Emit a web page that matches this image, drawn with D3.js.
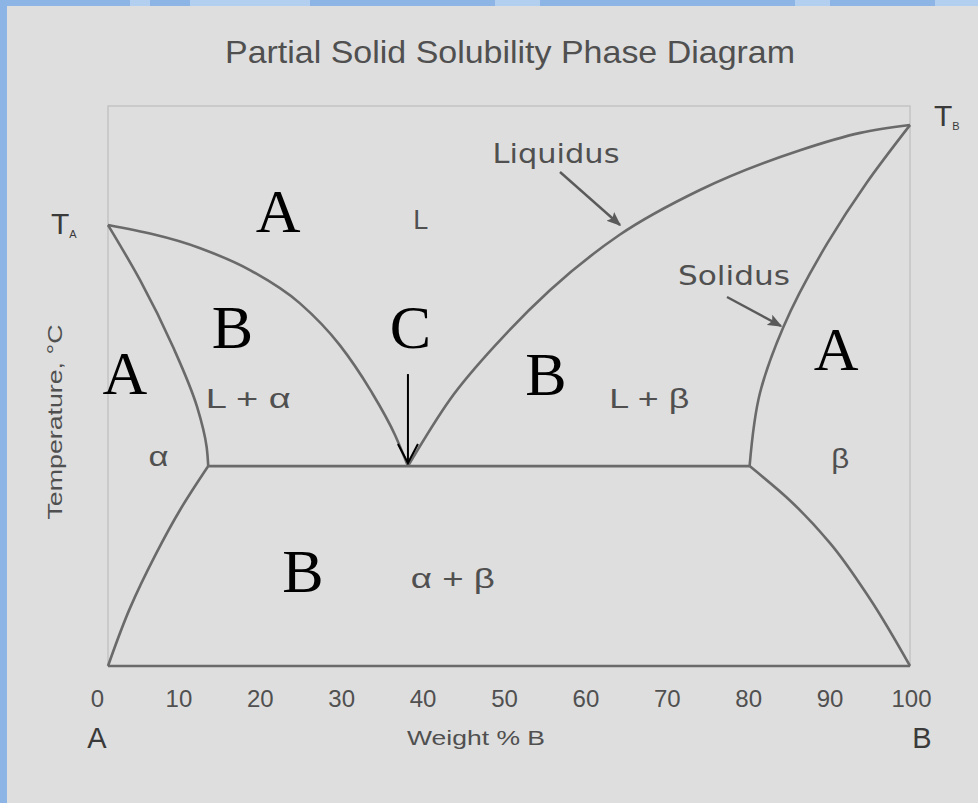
<!DOCTYPE html>
<html>
<head>
<meta charset="utf-8">
<script src="https://cdn.jsdelivr.net/npm/d3@7"></script>
<style>
  html, body { margin: 0; padding: 0; background: #8cb5e5; }
  svg { display: block; }
</style>
</head>
<body>
<script>
// Composition ticks (weight % B)
const tickValues = [0, 10, 20, 30, 40, 50, 60, 70, 80, 90, 100];

// Phase boundaries as [weight % B, temperature (relative units)]
// liquidus lines, ordered by composition
const liquidusA = [[0, 78.75], [11.5, 74.6], [17.7, 70.7], [23.9, 64.8], [28.9, 57.3], [32.7, 49.3], [35.8, 41.2], [37.4, 35.7]];
const liquidusB = [[37.4, 35.7], [42.6, 47.5], [48.9, 58.2], [55.1, 67.1], [63.8, 77.0], [73.8, 85.0], [86.3, 92.1], [93.8, 95.2], [100, 96.6]];
// solidus and solvus lines, ordered by falling temperature
const solidusA  = [[0, 78.75], [4.0, 68.9], [8.1, 57.0], [11.1, 46.3], [12.3, 39.1], [12.5, 35.7]];
const solidusB  = [[100, 96.6], [94.6, 86.3], [89.7, 75.5], [84.2, 60.5], [81.3, 48.8], [80.0, 35.7]];
const solvusA   = [[12.5, 35.7], [9.0, 27.9], [5.9, 19.8], [2.7, 10.2], [0, 0]];
const solvusB   = [[80.0, 35.7], [85.0, 29.6], [90.0, 22.0], [95.0, 12.0], [100, 0]];
const eutecticLine = [[12.5, 35.7], [80.0, 35.7]];
const baseLine  = [[0, 0], [100, 0]];

// Phase-field labels: [text, weight % B, temperature]
const phaseLabels = [
  ["L", 39.0, 78.0],
  ["L + \u03b1", 17.5, 46.0],
  ["L + \u03b2", 67.5, 46.0],
  ["\u03b1", 6.3, 35.8],
  ["\u03b2", 91.3, 35.4],
  ["\u03b1 + \u03b2", 43.0, 14.0]
];
const phaseLabelWidths = [15, 85, 80, 20, 18, 84];

// Region markers drawn over the diagram: [text, weight % B, temperature]
const markers = [
  ["A", 21.2, 77.5],
  ["B", 15.5, 56.8],
  ["A", 2.1, 48.6],
  ["C", 37.7, 56.8],
  ["B", 54.6, 48.4],
  ["A", 90.8, 52.9],
  ["B", 24.3, 13.2]
];

const W = 978, H = 803;
const x = d3.scaleLinear().domain([0, 100]).range([108, 910]);
const y = d3.scaleLinear().domain([0, 100]).range([666, 106]);
// tick labels sit on a slightly wider band than the frame
const xTick = d3.scaleLinear().domain([0, 100]).range([97, 911]);

const svg = d3.select("body").append("svg").attr("width", W).attr("height", H);

// decorative backdrop strip
const bg = svg.append("g");
bg.append("rect").attr("width", W).attr("height", H).attr("fill", "#8cb5e5");
const arcs = [[130, 150], [190, 310], [495, 540], [795, 830], [935, 978]];
arcs.forEach(a => bg.append("rect").attr("x", a[0]).attr("y", 0).attr("width", a[1] - a[0]).attr("height", 7).attr("fill", "#b3cff0"));

// panel
svg.append("rect").attr("x", 7).attr("y", 6).attr("width", W - 7).attr("height", H - 6).attr("fill", "#dedede");

const textCol = "#505050";
const sans = "'Liberation Sans Narrow', 'Liberation Sans', Arial, sans-serif";

// title
svg.append("text").attr("x", 510).attr("y", 63).attr("text-anchor", "middle")
  .attr("font-family", sans).attr("font-size", 32).attr("fill", textCol)
  .attr("textLength", 570).attr("lengthAdjust", "spacingAndGlyphs")
  .text("Partial Solid Solubility Phase Diagram");

// frame
svg.append("rect").attr("x", x(0)).attr("y", y(100)).attr("width", x(100) - x(0)).attr("height", y(0) - y(100))
  .attr("fill", "none").attr("stroke", "#c4c4c4").attr("stroke-width", 1.5);

// phase boundaries
const lineX = d3.line().x(d => x(d[0])).y(d => y(d[1])).curve(d3.curveMonotoneX);
const lineY = d3.line().x(d => x(d[0])).y(d => y(d[1])).curve(d3.curveMonotoneY);
const straight = d3.line().x(d => x(d[0])).y(d => y(d[1]));
const bounds = svg.append("g").attr("fill", "none").attr("stroke", "#6a6a6a").attr("stroke-width", 2.6)
  .attr("stroke-linejoin", "round");
[liquidusA, liquidusB].forEach(d => bounds.append("path").attr("d", lineX(d)));
[solidusA, solidusB, solvusA, solvusB].forEach(d => bounds.append("path").attr("d", lineY(d)));
[eutecticLine, baseLine].forEach(d => bounds.append("path").attr("d", straight(d)));

// x axis labels
const axis = d3.axisBottom(xTick).tickValues(tickValues).tickSize(0).tickPadding(0);
const ax = svg.append("g").attr("transform", "translate(0,688)").call(axis);
ax.select(".domain").remove();
ax.selectAll("text").attr("font-family", sans).attr("font-size", 24).attr("fill", textCol)
  .attr("dy", "0.8em");

svg.append("text").attr("x", 97).attr("y", 748).attr("text-anchor", "middle")
  .attr("font-family", "'Liberation Sans', Arial, sans-serif").attr("font-size", 29).attr("fill", "#3a3a3a").text("A");
svg.append("text").attr("x", 922).attr("y", 748).attr("text-anchor", "middle")
  .attr("font-family", "'Liberation Sans', Arial, sans-serif").attr("font-size", 29).attr("fill", "#3a3a3a").text("B");
svg.append("text").attr("x", 476).attr("y", 745).attr("text-anchor", "middle")
  .attr("font-family", sans).attr("font-size", 21).attr("fill", textCol)
  .attr("textLength", 138).attr("lengthAdjust", "spacingAndGlyphs").text("Weight % B");

// y axis title
svg.append("text").attr("transform", "translate(62,422) rotate(-90)").attr("text-anchor", "middle")
  .attr("font-family", sans).attr("font-size", 20).attr("fill", textCol)
  .attr("textLength", 195).attr("lengthAdjust", "spacingAndGlyphs").text("Temperature, \u00b0C");

// melting points
function meltLabel(px, py, sub) {
  const t = svg.append("text").attr("x", px).attr("y", py)
    .attr("font-family", "'Liberation Sans', Arial, sans-serif").attr("fill", "#3a3a3a");
  t.append("tspan").attr("font-size", 30).text("T");
  t.append("tspan").attr("font-size", 11).attr("dy", 4).text(sub);
}
meltLabel(51, y(liquidusA[0][1]) + 9, "A");
meltLabel(934, y(liquidusB[liquidusB.length - 1][1]) + 1, "B");

// phase field labels
phaseLabels.forEach((p, i) => {
  svg.append("text").attr("x", x(p[1])).attr("y", y(p[2])).attr("text-anchor", "middle")
    .attr("font-family", sans).attr("font-size", 28).attr("fill", textCol)
    .attr("textLength", phaseLabelWidths[i]).attr("lengthAdjust", "spacingAndGlyphs").text(p[0]);
});

// annotation arrows
const defs = svg.append("defs");
defs.append("marker").attr("id", "head").attr("viewBox", "0 0 10 10").attr("refX", 9).attr("refY", 5)
  .attr("markerWidth", 6).attr("markerHeight", 6).attr("markerUnits", "strokeWidth").attr("orient", "auto")
  .append("path").attr("d", "M0,1 L10,5 L0,9 L2,5 Z").attr("fill", "#5a5a5a");

svg.append("text").attr("x", 556).attr("y", 163).attr("text-anchor", "middle")
  .attr("font-family", "'DejaVu Sans', Verdana, sans-serif").attr("font-size", 26).attr("fill", textCol)
  .attr("textLength", 127).attr("lengthAdjust", "spacingAndGlyphs").text("Liquidus");
svg.append("line").attr("x1", 560).attr("y1", 172).attr("x2", 620).attr("y2", 225)
  .attr("stroke", "#5a5a5a").attr("stroke-width", 2.4).attr("marker-end", "url(#head)");

svg.append("text").attr("x", 734).attr("y", 285).attr("text-anchor", "middle")
  .attr("font-family", "'DejaVu Sans', Verdana, sans-serif").attr("font-size", 26).attr("fill", textCol)
  .attr("textLength", 112).attr("lengthAdjust", "spacingAndGlyphs").text("Solidus");
svg.append("line").attr("x1", 727).attr("y1", 297).attr("x2", 781).attr("y2", 326)
  .attr("stroke", "#5a5a5a").attr("stroke-width", 2.4).attr("marker-end", "url(#head)");

// region markers
markers.forEach(m => {
  svg.append("text").attr("x", x(m[1])).attr("y", y(m[2])).attr("text-anchor", "middle")
    .attr("font-family", "'Liberation Serif', 'Times New Roman', serif").attr("font-size", 62)
    .attr("fill", "#000").text(m[0]);
});

// arrow to the eutectic point
const ex = x(liquidusA[liquidusA.length - 1][0]), ey = y(liquidusA[liquidusA.length - 1][1]);
svg.append("line").attr("x1", ex).attr("y1", ey - 92).attr("x2", ex).attr("y2", ey - 3)
  .attr("stroke", "#000").attr("stroke-width", 2);
svg.append("path").attr("d", `M${ex - 10},${ey - 22} L${ex},${ey - 3} L${ex + 10},${ey - 22}`)
  .attr("fill", "none").attr("stroke", "#000").attr("stroke-width", 2);
</script>
</body>
</html>
